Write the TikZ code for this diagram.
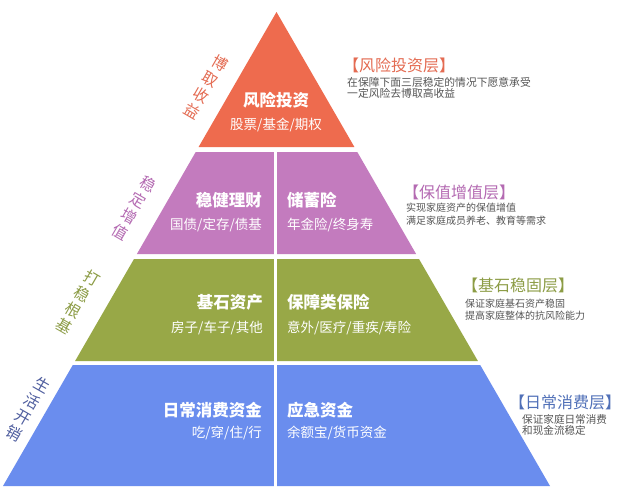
\documentclass[tikz,border=0pt]{standalone}
\usepackage{fontspec}
\setmainfont{Noto Sans CJK SC}
\definecolor{cred}{HTML}{EE6B4E}
\definecolor{cpurple}{HTML}{C37BBE}
\definecolor{cgreen}{HTML}{98A847}
\definecolor{cblue}{HTML}{6A8DEE}
\definecolor{lred}{HTML}{E46B52}
\definecolor{lpurple}{HTML}{B46AB2}
\definecolor{lgreen}{HTML}{8C9C45}
\definecolor{lblue}{HTML}{4E5D9E}
\definecolor{tblue}{HTML}{5070B8}
\definecolor{descgray}{HTML}{555555}
\tikzset{
  layertitle/.style={text=white, font=\fontsize{16.5}{20}\selectfont\bfseries, inner sep=0pt},
  layersub/.style={text=white, font=\fontsize{13.5}{16}\selectfont, inner sep=0pt},
  sidelabel/.style={font=\fontsize{15.5}{18.5}\selectfont, align=center, rotate=-30, inner sep=0pt},
  tiertitle/.style={font=\fontsize{16}{19}\selectfont, anchor=west, inner sep=0pt},
  tierdesc/.style={text=descgray, align=left, anchor=north west, inner sep=0pt},
}
\begin{document}
\begin{tikzpicture}[x=1pt,y=-1pt]
\useasboundingbox (0,0) rectangle (624,498);
\fill[white] (0,0) rectangle (624,498);
% layers
\fill[cred] (276.5,12) -- (354.4,147) -- (198.6,147) -- cycle;
\fill[cpurple] (195.7,152) -- (357.3,152) -- (416.1,254) -- (136.9,254) -- cycle;
\fill[cgreen] (134.0,259) -- (419.0,259) -- (477.9,361) -- (75.1,361) -- cycle;
\fill[cblue] (72.8,365) -- (480.2,365) -- (550,486) -- (3,486) -- cycle;
\draw[white, line width=3pt] (275,150) -- (275,488);
% layer texts
\node[layertitle] (t1) at (276,100) {风险投资};
\node[layersub] (s1) at (276,125) {股票/基金/期权};
\node[layertitle, anchor=east] (t2a) at (262,200) {稳健理财};
\node[layersub, anchor=east] (s2a) at (262,225) {国债/定存/债基};
\node[layertitle, anchor=west] (t2b) at (287,200) {储蓄险};
\node[layersub, anchor=west] (s2b) at (287,225) {年金险/终身寿};
\node[layertitle, anchor=east] (t3a) at (263,302) {基石资产};
\node[layersub, anchor=east] (s3a) at (263,328) {房子/车子/其他};
\node[layertitle, anchor=west] (t3b) at (287,302) {保障类保险};
\node[layersub, anchor=west] (s3b) at (287,328) {意外/医疗/重疾/寿险};
\node[layertitle, anchor=east] (t4a) at (262,410) {日常消费资金};
\node[layersub, anchor=east] (s4a) at (262,433) {吃/穿/住/行};
\node[layertitle, anchor=west] (t4b) at (287,410) {应急资金};
\node[layersub, anchor=west] (s4b) at (287,433) {余额宝/货币资金};
% left side labels
\node[sidelabel, text=lred] (l1) at (206,87) {博\\取\\收\\益};
\node[sidelabel, text=lpurple] (l2) at (134,208) {稳\\定\\增\\值};
\node[sidelabel, text=lgreen] (l3) at (78,302) {打\\稳\\根\\基};
\node[sidelabel, text=lblue] (l4) at (28,409) {生\\活\\开\\销};
% right tier descriptions
\node[tiertitle, text=lred] (r1) at (343,65) {【风险投资层】};
\node[tierdesc, font=\fontsize{10.8}{11.3}\selectfont] (d1) at (347,77) {在保障下面三层稳定的情况下愿意承受\\一定风险去博取高收益};
\node[tiertitle, text=lpurple] (r2) at (403,192) {【保值增值层】};
\node[tierdesc, font=\fontsize{10}{12.5}\selectfont] (d2) at (406,203) {实现家庭资产的保值增值\\满足家庭成员养老、教育等需求};
\node[tiertitle, text=lgreen] (r3) at (462,285) {【基石稳固层】};
\node[tierdesc, font=\fontsize{10}{12}\selectfont] (d3) at (465,299) {保证家庭基石资产稳固\\提高家庭整体的抗风险能力};
\node[tiertitle, text=tblue] (r4) at (509,402) {【日常消费层】};
\node[tierdesc, font=\fontsize{10.6}{11}\selectfont] (d4) at (522,414) {保证家庭日常消费\\和现金流稳定};
\end{tikzpicture}
\end{document}
